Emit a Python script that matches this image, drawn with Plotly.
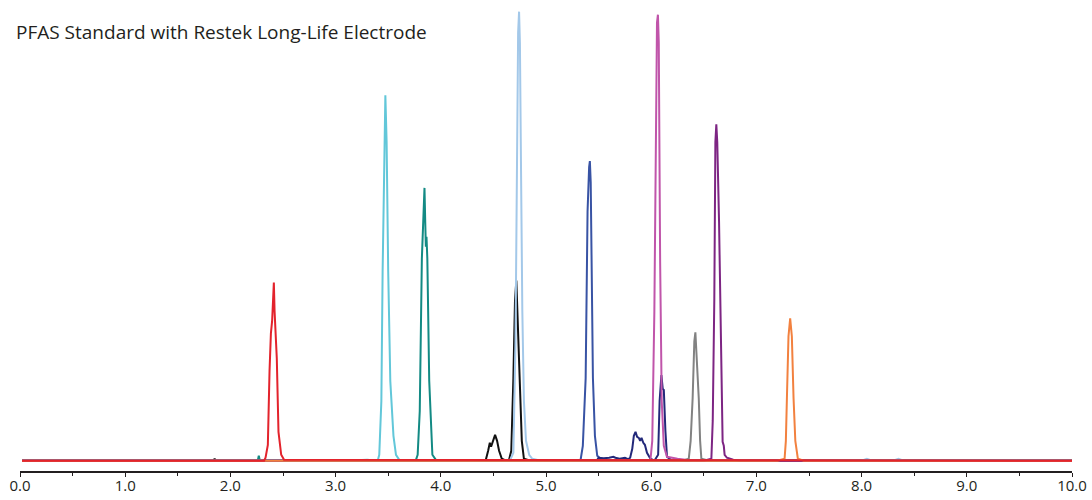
import plotly.graph_objects as go

# Retention time (min) and detector response (arbitrary units) per analyte trace
black_t = [0.02, 1.84, 1.85, 1.86, 4.40, 4.428, 4.45, 4.466, 4.478, 4.50, 4.516, 4.535, 4.554, 4.58, 4.62,
           4.649, 4.67, 4.69, 4.705, 4.718, 4.73, 4.75, 4.77, 4.79, 4.85, 10.0]
black_y = [0, 0, 2, 0, 0, 1, 10, 18, 14, 20, 26, 20, 10, 2, 0,
           1, 10, 83, 160, 181, 140, 83, 20, 2, 0, 0]

cyan_t = [0.02, 3.10, 3.30, 3.40, 3.415, 3.435, 3.447, 3.462, 3.473, 3.485, 3.50, 3.52, 3.55, 3.574, 3.605, 3.70, 10.0]
cyan_y = [0, 0, 1, 0, 6, 60, 190, 330, 367, 320, 190, 80, 25, 6, 1, 0, 0]

teal_t = [0.02, 2.26, 2.27, 2.28, 3.70, 3.764, 3.78, 3.80, 3.82, 3.835, 3.845, 3.852, 3.858, 3.864, 3.872,
          3.89, 3.92, 3.953, 4.0, 10.0]
teal_y = [0, 0, 5, 0, 0, 1, 6, 50, 203, 255, 274, 240, 215, 225, 203,
          80, 6, 1, 0, 0]

ltblue_t = [0.02, 4.60, 4.66, 4.69, 4.71, 4.725, 4.735, 4.744, 4.752, 4.762, 4.775, 4.79, 4.81, 4.84, 4.87,
            4.95, 8.0, 8.05, 8.1, 8.3, 8.35, 8.4, 10.0]
ltblue_y = [0, 0, 1, 8, 120, 330, 430, 451, 420, 300, 150, 60, 20, 6, 2,
            0, 0, 2, 0, 0, 2, 0, 0]

blue_t = [0.02, 5.25, 5.329, 5.35, 5.377, 5.395, 5.41, 5.417, 5.425, 5.433, 5.446, 5.465, 5.487, 5.52, 5.60, 10.0]
blue_y = [0, 0, 1, 15, 83, 250, 295, 301, 280, 203, 83, 25, 5, 2, 0, 0]

navy_t = [0.02, 5.48, 5.50, 5.55, 5.60, 5.64, 5.66, 5.70, 5.75, 5.78, 5.80, 5.82, 5.835, 5.851, 5.866, 5.882,
          5.895, 5.908, 5.925, 5.94, 5.96, 5.993, 6.03, 6.066, 6.08, 6.097, 6.11, 6.12, 6.135, 6.15, 6.20, 10.0]
navy_y = [0, 0, 3, 2.5, 3, 4, 3, 2, 3, 1.5, 3, 12, 25, 29, 24, 23,
          20, 23, 18, 16, 8, 2, 0, 6, 60, 86, 72, 71, 30, 4, 0, 0]

magenta_t = [0.02, 5.95, 5.993, 6.01, 6.03, 6.045, 6.055, 6.064, 6.072, 6.085, 6.10, 6.12, 6.15, 6.25, 6.40, 10.0]
magenta_y = [0, 0, 1, 20, 150, 380, 440, 448, 420, 200, 60, 15, 4, 2, 0, 0]

gray_t = [0.02, 6.30, 6.357, 6.375, 6.394, 6.41, 6.42, 6.43, 6.452, 6.465, 6.477, 6.55, 10.0]
gray_y = [0, 0, 2, 20, 63, 120, 129, 110, 63, 20, 2, 0, 0]

purple_t = [0.02, 6.50, 6.572, 6.585, 6.60, 6.61, 6.619, 6.628, 6.645, 6.657, 6.668, 6.679, 6.69, 6.698,
            6.72, 6.78, 6.85, 10.0]
purple_y = [0, 0, 2, 40, 163, 320, 338, 320, 240, 163, 60, 19, 15, 6,
            3, 1, 0, 0]

orange_t = [0.02, 7.20, 7.268, 7.28, 7.29, 7.305, 7.321, 7.337, 7.353, 7.37, 7.394, 7.45, 10.0]
orange_y = [0, 0, 2, 20, 63, 125, 143, 125, 63, 20, 2, 0, 0]

red_t = [0.02, 2.32, 2.334, 2.356, 2.372, 2.385, 2.397, 2.405, 2.413, 2.420, 2.432, 2.441, 2.457, 2.483, 2.51, 10.0]
red_y = [0, 0, 3, 16, 90, 128, 141, 160, 179, 150, 125, 103, 29, 6, 1, 0]

traces = [
    (black_t, black_y, '#111111'),
    (cyan_t, cyan_y, '#62c7d9'),
    (teal_t, teal_y, '#138a84'),
    (ltblue_t, ltblue_y, '#a3c8e9'),
    (blue_t, blue_y, '#3853a4'),
    (navy_t, navy_y, '#23297a'),
    (magenta_t, magenta_y, '#c055aa'),
    (gray_t, gray_y, '#828282'),
    (purple_t, purple_y, '#7d2583'),
    (orange_t, orange_y, '#f2813f'),
    (red_t, red_y, '#e3232c'),
]

fig = go.Figure()
for t, y, c in traces:
    fig.add_trace(go.Scatter(x=t, y=y, mode='lines', line=dict(color=c, width=2), showlegend=False,
                             hoverinfo='skip'))

fig.add_annotation(text='PFAS Standard with Restek Long-Life Electrode', xref='paper', yref='paper',
                   x=0, y=1, xanchor='left', yanchor='middle', xshift=-6, yshift=-26.5, showarrow=False,
                   font=dict(family='Open Sans', size=19, color='#231f20'))

fig.update_layout(
    width=1092, height=500,
    margin=dict(l=20, r=18, t=5, b=27),
    plot_bgcolor='white', paper_bgcolor='white',
    font=dict(family='Open Sans', size=15, color='#231f20'),
    xaxis=dict(range=[0, 10], tickvals=[0, 1, 2, 3, 4, 5, 6, 7, 8, 9, 10], tickformat='.1f',
               showgrid=False, zeroline=False, showline=True, linecolor='#231f20', linewidth=1.5,
               ticks='outside', ticklen=4, tickwidth=1.2, tickcolor='#231f20', ticklabelstandoff=-4,
               minor=dict(dtick=0.5, ticks='outside', ticklen=3, tickwidth=1, tickcolor='#231f20')),
    yaxis=dict(range=[-10.3, 457.7], visible=False, showgrid=False, zeroline=False),
)

# drop the default 8px page margin so the figure fills the 1092x500 window
fig.write_html("out.html", config={'displayModeBar': False},
               post_script="document.body.style.margin='0';document.body.style.overflow='hidden';")
